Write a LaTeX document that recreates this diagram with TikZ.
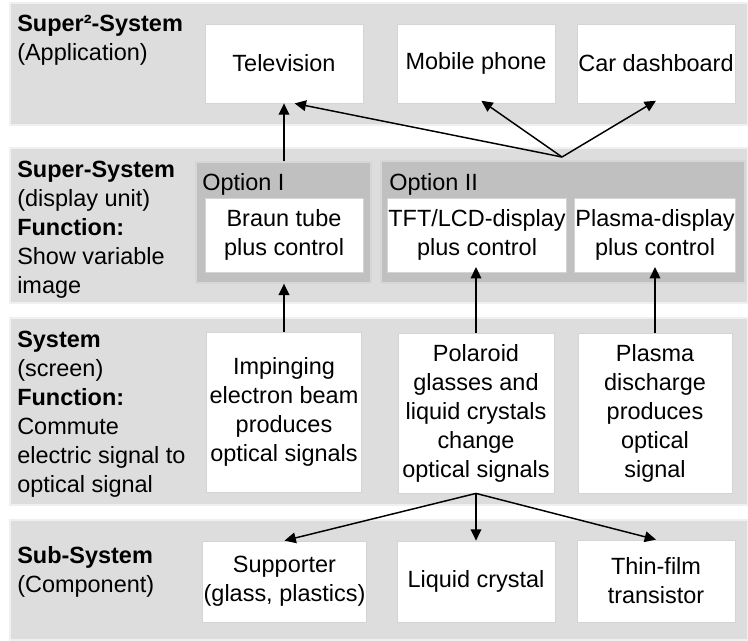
\documentclass[tikz,border=0pt]{standalone}
\usepackage{fontspec}
\setmainfont{Liberation Sans}
\usetikzlibrary{arrows.meta}

\begin{document}
\begin{tikzpicture}[x=0.75pt,y=0.75pt,yscale=-1,xscale=1,
    every node/.style={font=\fontsize{17.6}{21.75}\selectfont, inner sep=0.75pt},
    band/.style={draw={rgb, 255:red, 240; green, 240; blue, 240 }, fill={rgb, 255:red, 221; green, 221; blue, 221 }, line width=1pt},
    optbox/.style={draw={rgb, 255:red, 214; green, 214; blue, 214 }, fill={rgb, 255:red, 192; green, 192; blue, 192 }, line width=1pt},
    cell/.style={draw={rgb, 255:red, 212; green, 212; blue, 212 }, fill=white, line width=0.6pt, align=center, minimum width=118.5pt, minimum height=59.25pt},
    label/.style={anchor=north west, align=left, inner sep=0pt},
    link/.style={-{Triangle[length=8.5pt,width=8pt]}, line width=1.1pt}]
    \useasboundingbox (0,0) rectangle (748,640);

    %Shape: Rectangle [bands]
    \draw [band] (10,3) rectangle (748,125);
    \draw [band] (10,148) rectangle (748,303);
    \draw [band] (10,318) rectangle (748,505);
    \draw [band] (10,520) rectangle (748,640);

    % Text Node
    \node [label] (lsuper2) at (17,15) {\textbf{Super²-System}\\(Application)};
    \node [label] (lsuper) at (17,161) {\textbf{Super-System}\\(display unit)\\\textbf{Function:}\\Show variable\\image};
    \node [label] (lsys) at (17,331) {\textbf{System}\\(screen)\\\textbf{Function:}\\Commute\\electric signal to\\optical signal};
    \node [label] (lsub) at (17,546) {\textbf{Sub-System}\\(Component)};

    %Shape: Rectangle [application]
    \node [cell] (tv) at (284,63.5) {Television};
    \node [cell] (mobile) at (476,63.5) {Mobile phone};
    \node [cell] (car) at (656,63.5) {Car dashboard};

    %Shape: Rectangle [display unit]
    \node [optbox, minimum width=131.25pt, minimum height=90.75pt] (optI) at (283.5,222.5) {};
    \node [optbox, minimum width=273pt, minimum height=91.5pt] (optII) at (563,222) {};
    \node [label] (loptI) at (202,173) {Option I};
    \node [label] (loptII) at (389,173) {Option II};
    \node [cell, minimum height=55.5pt] (braun) at (284,235) {Braun tube\\plus control};
    \node [cell, minimum width=129pt, minimum height=55.5pt] (tft) at (477,235) {TFT/LCD-display\\plus control};
    \node [cell, minimum width=117pt, minimum height=55.5pt] (plasmad) at (655,235) {Plasma-display\\plus control};

    %Shape: Rectangle [screen]
    \node [cell, minimum width=116.25pt, minimum height=120pt] (beam) at (284,412) {Impinging\\electron beam\\produces\\optical signals};
    \node [cell, minimum width=117pt, minimum height=120pt] (polar) at (476,413) {Polaroid\\glasses and\\liquid crystals\\change\\optical signals};
    \node [cell, minimum width=115.5pt, minimum height=120pt] (plasma) at (655,413) {Plasma\\discharge\\produces\\optical\\signal};

    %Shape: Rectangle [component]
    \node [cell, minimum width=116.25pt, minimum height=60.75pt] (support) at (284.5,581.5) {Supporter\\(glass, plastics)};
    \node [cell, minimum height=60.75pt] (liquid) at (476,581.5) {Liquid crystal};
    \node [cell, minimum height=61.5pt] (tfilm) at (656,581) {Thin-film\\transistor};

    %Straight Lines [arrows]
    \coordinate (fork) at (562,157);
    \draw [link] (optI.north -| tv.south) -- (tv.south);
    \draw [link] (fork) -- ([xshift=8pt]tv.south);
    \draw [link] (fork) -- ([xshift=4pt,yshift=-2pt]mobile.south);
    \draw [link] (fork) -- ([yshift=-2pt]car.south);
    \draw [link] (beam.north) -- (beam.north |- optI.south);
    \draw [link] (polar.north) -- ([yshift=-4pt]polar.north |- tft.south);
    \draw [link] (plasma.north) -- ([yshift=-4pt]plasma.north |- plasmad.south);
    \draw [link] (polar.south) -- (support.north);
    \draw [link] (polar.south) -- (liquid.north);
    \draw [link] (polar.south) -- (tfilm.north);

\end{tikzpicture}
\end{document}
